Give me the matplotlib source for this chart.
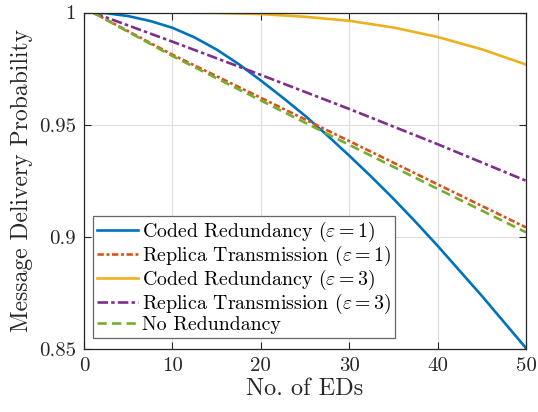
import matplotlib
matplotlib.use("Agg")
import matplotlib.pyplot as plt

plt.rcParams['font.family'] = ['cmr10']
plt.rcParams['mathtext.fontset'] = 'cm'
plt.rcParams['axes.formatter.use_mathtext'] = True

# ---- data ----
x_blue = [1, 2.5, 5, 7.5, 10, 12.5, 15, 17.5, 20, 22.5, 25, 27.5, 30, 32.5, 35, 37.5, 40, 45, 50]
coded_e1 = [1.0, 0.9997, 0.9984, 0.9962, 0.9932, 0.9889, 0.9835, 0.9770, 0.9697, 0.9620, 0.9540,
            0.9453, 0.9362, 0.9268, 0.9170, 0.9067, 0.8960, 0.8737, 0.8504]

x_rep = [1, 10, 20, 30, 40, 50]
replica_e1 = [1.0, 0.9812, 0.9620, 0.9427, 0.9234, 0.9042]

x_yel = [1, 5, 10, 15, 20, 25, 30, 35, 40, 45, 50]
coded_e3 = [1.0, 1.0, 0.99995, 0.9998, 0.9993, 0.9981, 0.9963, 0.9933, 0.9891, 0.9836, 0.9768]

replica_e3 = [1.0, 0.9870, 0.9722, 0.9570, 0.9413, 0.9250]

no_red = [1.0, 0.9806, 0.9608, 0.9410, 0.9214, 0.9020]

labels = [r'Coded Redundancy ($\varepsilon=1$)',
          r'Replica Transmission ($\varepsilon=1$)',
          r'Coded Redundancy ($\varepsilon=3$)',
          r'Replica Transmission ($\varepsilon=3$)',
          'No Redundancy']

xticks = [0, 10, 20, 30, 40, 50]
yticks = [0.85, 0.9, 0.95, 1.0]
yticklabels = ['0.85', '0.9', '0.95', '1']

colors = ['#0072BD', '#D95319', '#EDB120', '#7E2F8E', '#77AC30']

# ---- figure ----
fig = plt.figure(figsize=(5.38, 4.12), dpi=100)
ax = fig.add_axes([84/538, 63/412, 442/538, 336.5/412])

lw = 1.9
ax.plot(x_blue, coded_e1, color=colors[0], lw=lw, label=labels[0])
ax.plot(x_rep, replica_e1, color=colors[1], lw=lw, dashes=(2.4, 1.0, 1.1, 1.0), label=labels[1])
ax.plot(x_yel, coded_e3, color=colors[2], lw=lw, label=labels[2])
ax.plot(x_rep, replica_e3, color=colors[3], lw=lw, dashes=(4.0, 1.2, 1.3, 1.2), label=labels[3])
ax.plot(x_rep, no_red, color=colors[4], lw=lw, dashes=(3.5, 2.0), label=labels[4])

ax.set_xlim(0, 50)
ax.set_ylim(0.85, 1.0)
ax.set_xticks(xticks)
ax.set_xticklabels([str(t) for t in xticks])
ax.set_yticks(yticks)
ax.set_yticklabels(yticklabels)

ax.grid(True, color='#dedede', lw=0.8)
ax.set_axisbelow(True)
ax.tick_params(direction='in', length=5, width=0.8, top=True, right=True,
               labelsize=15, colors='#262626', pad=6)
for sp in ax.spines.values():
    sp.set_color('#262626')
    sp.set_linewidth(0.9)

ax.set_xlabel('No. of EDs', fontsize=17.5, color='#262626', labelpad=2)
ax.set_ylabel('Message Delivery Probability', fontsize=17, color='#262626', labelpad=4)

leg = ax.legend(loc='lower left', bbox_to_anchor=(9/442, 11/336.5), fontsize=14.3,
                frameon=True, fancybox=False, edgecolor='#666666', framealpha=1,
                handlelength=2.05, handletextpad=0.2, borderpad=0.2, labelspacing=0.0,
                borderaxespad=0)
leg.get_frame().set_linewidth(0.9)

fig.savefig('out.png', dpi=100)
